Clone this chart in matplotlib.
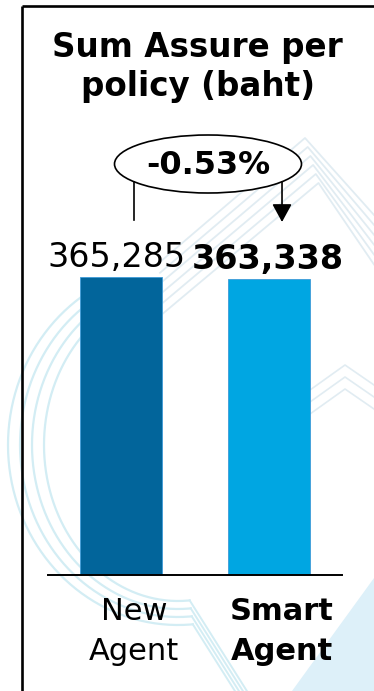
import matplotlib
matplotlib.use("Agg")
import matplotlib.pyplot as plt
import numpy as np
from matplotlib.patches import Ellipse, Polygon

# ---- data ----
categories = ["New\nAgent", "Smart\nAgent"]
values = [365285, 363338]
value_labels = ["365,285", "363,338"]
change_label = "-0.53%"
title_lines = ["Sum Assure per", "policy (baht)"]
bar_colors = ["#02659B", "#00A6E2"]
label_bold = [False, True]

W, H = 374, 691
DPI = 100
plt.rcParams["font.family"] = ["DejaVu Sans"]

fig = plt.figure(figsize=(W / DPI, H / DPI), dpi=DPI)
fig.patch.set_facecolor("white")

# pixel layout of the bar axes
AX_L, AX_R = 48, 342
AX_BOT, AX_TOP = 575, 200
BAR_TOP_PX = 277
XMIN, XMAX = -0.493, 1.493


def fx(px):
    return px / W


def fy(py):
    return 1 - py / H


def px_x(xd):
    return AX_L + (xd - XMIN) / (XMAX - XMIN) * (AX_R - AX_L)


# background watermark layer (pixel coordinates, y down)
bg = fig.add_axes([0, 0, 1, 1], zorder=0)
bg.set_xlim(0, W)
bg.set_ylim(H, 0)
bg.axis("off")

arc_col = "#D3EDF4"
t = np.linspace(np.radians(115), np.radians(275), 200)
for k in range(4):
    rx = 170 - k * 12
    ry = 180 - k * 8
    xs = 178 + rx * np.cos(t)
    ys = 445 - ry * np.sin(t)
    bg.plot(xs, ys, color=arc_col, lw=1.6)
    # tail running down towards the bottom edge
    bg.plot([xs[-1], xs[-1] + 60], [ys[-1], ys[-1] + 95], color=arc_col, lw=1.4)

chev_col = "#E1ECF2"
for k in range(6):
    d = k * 9
    bg.plot([160, 305 + d * 0.3, 374], [262 + d * 1.2, 138 + d, 215 + d * 1.1],
            color=chev_col, lw=1.3)
for k in range(3):
    d = k * 12
    bg.plot([310, 345, 374], [390 + d, 365 + d, 385 + d], color=chev_col, lw=1.2)
bg.add_patch(Polygon([[292, 691], [374, 578], [374, 691]], closed=True,
                     facecolor="#DDF0F9", edgecolor="none"))

# frame lines
bg.plot([22, W], [6, 6], color="black", lw=1.9, solid_capstyle="butt")
bg.plot([22, 22], [6, H], color="black", lw=1.9, solid_capstyle="butt")

# bar axes
ax = fig.add_axes([fx(AX_L), fy(AX_BOT), fx(AX_R) - fx(AX_L), fy(AX_TOP) - fy(AX_BOT)], zorder=1)
ax.patch.set_alpha(0)
ymax = values[0] * (AX_BOT - AX_TOP) / (AX_BOT - BAR_TOP_PX)
ax.set_xlim(XMIN, XMAX)
ax.set_ylim(0, ymax)
x = np.arange(len(values))
ax.bar(x, values, width=0.554, color=bar_colors, edgecolor="#3E9BD8", linewidth=0.6, zorder=2)
for s in ["top", "left", "right"]:
    ax.spines[s].set_visible(False)
ax.spines["bottom"].set_linewidth(1.4)
ax.set_xticks([])
ax.set_yticks([])

label_shift = [-0.03, -0.01]
for i, (v, lab) in enumerate(zip(values, value_labels)):
    ax.annotate(lab, (i + label_shift[i], v), xytext=(0, 7), textcoords="offset points",
                ha="center", va="baseline", fontsize=24,
                fontweight="bold" if label_bold[i] else "normal")

# foreground layer: title, change bubble, category labels
fg = fig.add_axes([0, 0, 1, 1], zorder=3)
fg.set_xlim(0, W)
fg.set_ylim(H, 0)
fg.axis("off")

fg.text(197, 57, title_lines[0], ha="center", va="baseline", fontsize=23.5, fontweight="bold")
fg.text(198, 96, title_lines[1], ha="center", va="baseline", fontsize=23.5, fontweight="bold")

ecx, ecy, ew, eh = 208, 164, 187, 58
fg.add_patch(Ellipse((ecx, ecy), ew, eh, facecolor="white", edgecolor="black", lw=1.2))
fg.text(ecx, ecy + 1, change_label, ha="center", va="center", fontsize=23, fontweight="bold")

offset = 13
x0 = px_x(0) + offset
x1 = px_x(1) + offset


def ellipse_bottom(xp):
    return ecy + eh / 2 * np.sqrt(max(0.0, 1 - ((xp - ecx) / (ew / 2)) ** 2))


fg.plot([x0, x0], [ellipse_bottom(x0), 220], color="black", lw=1.2)
fg.annotate("", xy=(x1, 222), xytext=(x1, ellipse_bottom(x1)),
            arrowprops=dict(arrowstyle="-|>,head_length=1.1,head_width=0.6",
                            color="black", lw=1.2, shrinkA=0, shrinkB=0))

for i, cat in enumerate(categories):
    top, bottom = cat.split("\n")
    cx = px_x(i) + offset
    w = "bold" if label_bold[i] else "normal"
    fg.text(cx, 620, top, ha="center", va="baseline", fontsize=22, fontweight=w)
    fg.text(cx, 660, bottom, ha="center", va="baseline", fontsize=22, fontweight=w)

fig.savefig("out.png", dpi=DPI)
